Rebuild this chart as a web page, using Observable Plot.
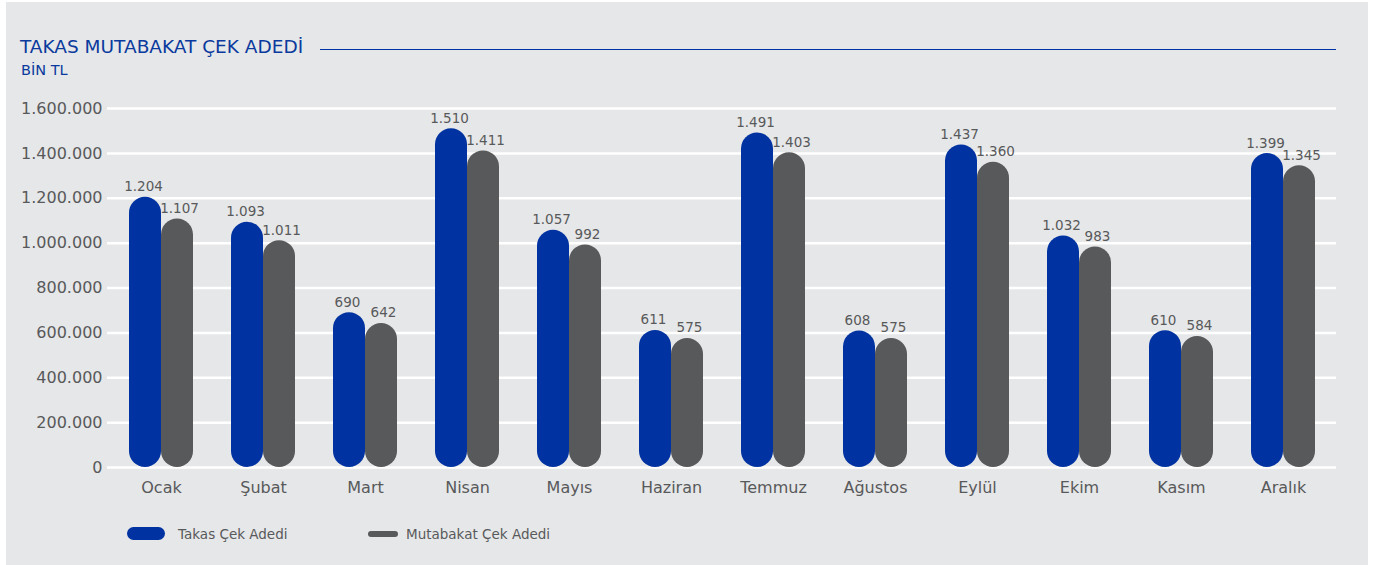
<!DOCTYPE html>
<html>
<head>
<meta charset="utf-8">
<script src="https://cdn.jsdelivr.net/npm/d3@7"></script>
<script src="https://cdn.jsdelivr.net/npm/@observablehq/plot@0.6"></script>
<style>
  html, body { margin: 0; padding: 0; background: #ffffff; }
  body { width: 1384px; height: 565px; position: relative; overflow: hidden; font-family: "DejaVu Sans", sans-serif; }
  #panel { position: absolute; left: 6px; top: 2px; width: 1362px; height: 563px; background: #e6e7e8; }
  .abs { position: absolute; white-space: nowrap; line-height: 1; }
  #title { left: 20px; top: 37.5px; font-size: 18.5px; color: #0a3a9e; }
  #titleLine { left: 320px; top: 49px; width: 1016px; height: 1px; background: #0033a1; }
  #sub { left: 21px; top: 62.5px; font-size: 14.5px; color: #0a3a9e; }
  #chart { position: absolute; left: 0; top: 90px; }
  .sw { position: absolute; }
  .lt { font-size: 13.5px; color: #58595b; }
</style>
</head>
<body>
<div id="panel"></div>
<div class="abs" id="title">TAKAS MUTABAKAT ÇEK ADEDİ</div>
<div class="abs" id="titleLine"></div>
<div class="abs" id="sub">BİN TL</div>
<div id="chart"></div>
<div class="sw" id="sw1" style="left:127px; top:527px; width:38px; height:13px; border-radius:7px; background:#0033a1;"></div>
<div class="abs lt" style="left:178px; top:527.6px;">Takas Çek Adedi</div>
<div class="sw" id="sw2" style="left:368px; top:531px; width:30px; height:6px; border-radius:3px; background:#58595b;"></div>
<div class="abs lt" style="left:406px; top:527.6px;">Mutabakat Çek Adedi</div>
<script>
const months = ["Ocak","Şubat","Mart","Nisan","Mayıs","Haziran","Temmuz","Ağustos","Eylül","Ekim","Kasım","Aralık"];
const takas = [1204,1093,690,1510,1057,611,1491,608,1437,1032,610,1399];
const mutabakat = [1107,1011,642,1411,992,575,1403,575,1360,983,584,1345];
const yTicks = [0,200000,400000,600000,800000,1000000,1200000,1400000,1600000];

const BLUE = "#0033a1";
const GRAY = "#58595b";
const dots = n => d3.format(",")(n).replace(/,/g, ".");

const tData = months.map((m, i) => ({month: m, v: takas[i] * 1000, label: dots(takas[i])}));
const mData = months.map((m, i) => ({month: m, v: mutabakat[i] * 1000, label: dots(mutabakat[i])}));

const chart = Plot.plot({
  width: 1384,
  height: 430,
  marginTop: 18,
  marginBottom: 53,
  marginLeft: 107,
  marginRight: 48,
  style: {background: "transparent", fontFamily: "DejaVu Sans, sans-serif", fontSize: "16px", color: GRAY},
  x: {domain: months, paddingInner: 0.375, paddingOuter: 0.1875, label: null},
  y: {domain: [0, 1600000], label: null},
  marks: [
    Plot.gridY(yTicks, {stroke: "#ffffff", strokeOpacity: 1, strokeWidth: 2.5}),
    Plot.axisY(yTicks, {tickSize: 0, tickPadding: 5, tickFormat: dots, fontSize: 16, label: null}),
    Plot.axisX({tickSize: 0, tickPadding: 14, fontSize: 16, label: null}),
    Plot.barY(tData, {x: "month", y: "v", fill: BLUE, insetRight: 32, rx: 16, ry: 16}),
    Plot.barY(mData, {x: "month", y: "v", fill: GRAY, insetLeft: 32, rx: 16, ry: 16}),
    Plot.text(tData, {x: "month", y: "v", text: "label", dx: -18, dy: -6, lineAnchor: "bottom", fontSize: 13.5, fill: GRAY}),
    Plot.text(mData, {x: "month", y: "v", text: "label", dx: 18, dy: -6, lineAnchor: "bottom", fontSize: 13.5, fill: GRAY})
  ]
});
document.getElementById("chart").appendChild(chart);
</script>
</body>
</html>
